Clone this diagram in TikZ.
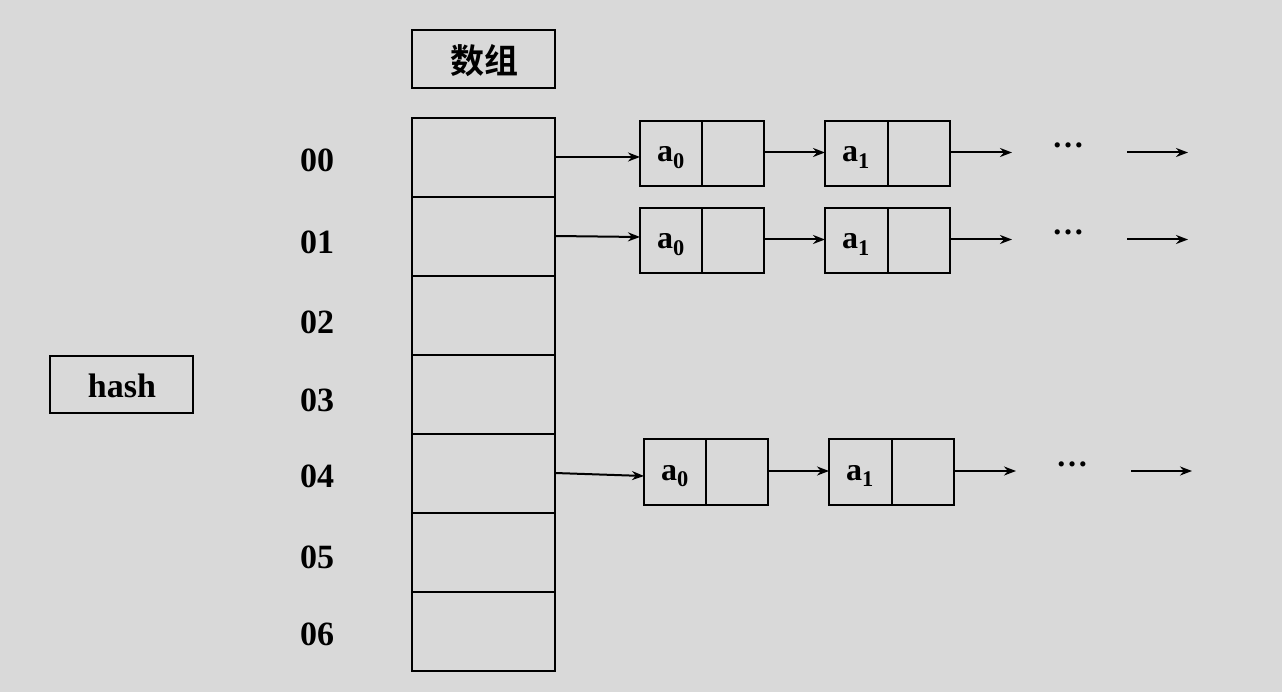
\documentclass[tikz,border=0pt]{standalone}
\usepackage{fontspec}
\setmainfont{Liberation Serif}
\newfontfamily\cjk{Noto Sans CJK SC Bold}
\usetikzlibrary{arrows.meta}
\definecolor{bg}{HTML}{D9D9D9}
\begin{document}
\begin{tikzpicture}[x=1pt,y=-1pt,
  box/.style={draw,line width=2.5pt},
  arr/.style={-{Stealth[length=12pt,width=9pt]},line width=2pt},
  lbl/.style={font=\fontsize{34}{34}\selectfont\bfseries},
  cell/.style={font=\fontsize{32}{32}\selectfont\bfseries}]
\fill[bg] (0,0) rectangle (1282,692);
\useasboundingbox (0,0) rectangle (1282,692);
\draw[box] (412,30) rectangle (555,88);
\node[font=\fontsize{34}{34}\selectfont\cjk] (title) at (484,61) {数组};
\draw[box] (50,356) rectangle (193,413);
\node[lbl] (hash) at (122,386) {hash};
\foreach \i/\l in {0/00,1/01,2/02,3/03,4/04,5/05,6/06}{
  \draw[box] (412,{118+\i*79}) rectangle (555,{118+(\i+1)*79});
  \coordinate (r\i) at (555,{157+\i*79});
}
\foreach \y/\l in {160/00,242/01,322/02,400/03,476/04,557/05,634/06}
  \node[lbl] (lab\l) at (317,\y) {\l};
% lists
\foreach \n/\t/\b/\dx/\ya in {0/121/186/0/157,1/208/273/0/237,4/439/505/4/476}{
  \begin{scope}[xshift=\dx pt]
  \draw[box] (640,\t) rectangle (764,\b); \draw[box] (702,\t) -- (702,\b);
  \draw[box] (825,\t) rectangle (950,\b); \draw[box] (888,\t) -- (888,\b);
  \node[cell] (a0\n) at (671,{(\t+\b)/2+4}) {a\textsubscript{0}};
  \node[cell] (a1\n) at (856,{(\t+\b)/2+4}) {a\textsubscript{1}};
  \coordinate (s\n) at (640,\ya);
  \coordinate (p\n) at (764,{(\t+\b)/2-1});
  \coordinate (q\n) at (825,{(\t+\b)/2-1});
  \coordinate (e\n) at (950,{(\t+\b)/2-1});
  \coordinate (f\n) at (1012,{(\t+\b)/2-1});
  \node[cell] (d\n) at (1068,{(\t+\b)/2-8}) {…};
  \coordinate (g\n) at (1127,{(\t+\b)/2-1});
  \coordinate (h\n) at (1188,{(\t+\b)/2-1});
  \end{scope}
  \draw[arr] (r\n) -- (s\n);
  \draw[arr] (p\n) -- (q\n);
  \draw[arr] (e\n) -- (f\n);
  \draw[arr] (g\n) -- (h\n);
}
\end{tikzpicture}
\end{document}
